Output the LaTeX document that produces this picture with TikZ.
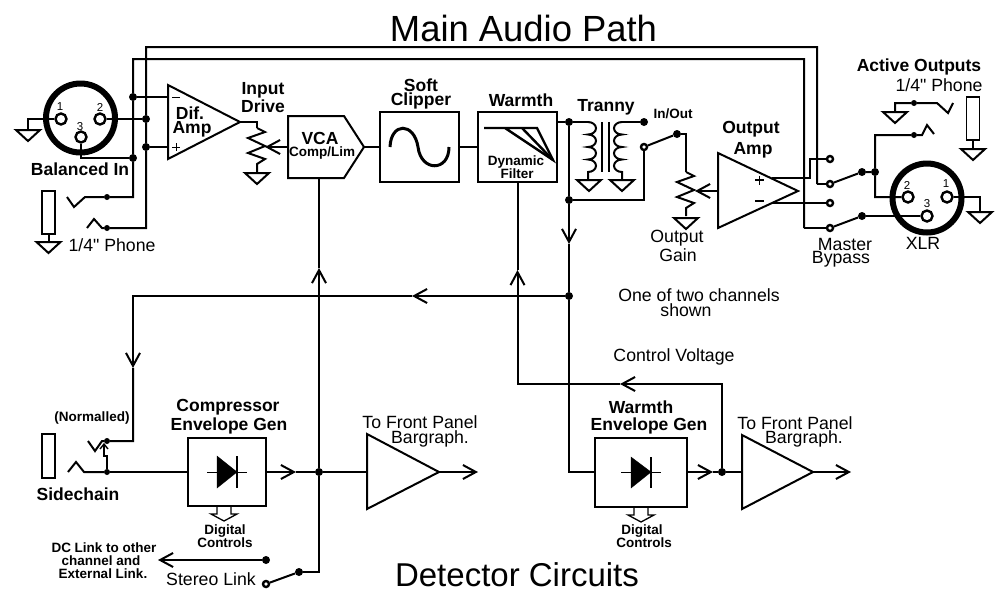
\documentclass[tikz,border=0pt]{standalone}
\usepackage{fontspec}
\setmainfont{Liberation Sans}
\newfontfamily\phonefont{Liberation Sans}
\usetikzlibrary{arrows.meta}
\tikzset{
  wire/.style={line width=2pt,line join=miter},
  dotnode/.style={circle,fill=black,inner sep=0pt,minimum size=8pt},
  tinydot/.style={circle,fill=black,inner sep=0pt,minimum size=6pt},
  contact/.style={circle,draw,fill=white,line width=2.4pt,inner sep=0pt,minimum size=6pt},
  pin/.style={circle,draw,fill=white,line width=2.4pt,inner sep=0pt,minimum size=11pt},
  ring/.style={circle,draw,line width=6pt,inner sep=0pt,minimum size=69pt},
  blockbox/.style={draw,line width=2pt,inner sep=0pt},
  plug/.style={draw,line width=1.4pt,inner sep=0pt},
  lab/.style={inner sep=0pt,font=\fontsize{17.7}{18}\selectfont},
  blab/.style={inner sep=0pt,font=\fontsize{17.5}{18}\selectfont\bfseries},
  slab/.style={inner sep=0pt,font=\fontsize{13.5}{14}\selectfont\bfseries},
  pinlab/.style={inner sep=0pt,font=\fontsize{11.5}{12}\selectfont},
  >={Straight Barb[length=13pt,width=14pt]}
}
% ground symbol below a point
\newcommand{\groundat}[1]{\draw[wire] (#1) ++(-12,0) -- ++(24,0) -- ++(-12,11) -- cycle;}
% pot zigzag, drawn down from a point
\newcommand{\potfrom}[1]{\draw[wire] (#1) -- ++(8,4) -- ++(-17,6) -- ++(17,8) -- ++(-17,7) -- ++(17,6) -- ++(-8,5) -- ++(0,8);}
% hollow digital control arrow
\newcommand{\digiarrow}[1]{\draw[line width=1.3pt] (#1) ++(-7,0) -- ++(0,8) -- ++(-6,0) -- ++(13,7) -- ++(13,-7) -- ++(-6,0) -- ++(0,-8);}
\begin{document}
\begin{tikzpicture}[x=1pt,y=-1pt]
  \useasboundingbox (0,0) rectangle (995,590);
  \node[inner sep=0pt,font=\fontsize{36.4}{36}\selectfont] (title) at (523.5,28) {Main Audio Path};
  \node[inner sep=0pt,font=\fontsize{33}{33}\selectfont] (detector) at (517,575) {Detector Circuits};

  % balanced input
  \node[ring] (xlrin) at (80.5,118) {};
  \node[pin] (inone) at (61,119) {};
  \node[pin] (intwo) at (100,119) {};
  \node[pin] (inthree) at (81,137) {};
  \node[pinlab] (inonelab) at (60,107) {1};
  \node[pinlab] (intwolab) at (100,107) {2};
  \node[pinlab] (inthreelab) at (80,127) {3};
  \node[dotnode] (jneg) at (133,97) {};
  \node[dotnode] (jtwo) at (146,119) {};
  \node[dotnode] (jpos) at (146,147) {};
  \node[dotnode] (jthree) at (133,158) {};
  \coordinate (ingnd) at (28,130);
  \draw[wire] (inone) -- (28,119) -- (ingnd);
  \groundat{ingnd}
  \draw[wire] (intwo) -- (jtwo);
  \draw[wire] (inthree) |- (jthree);
  \node[blab] (balanced) at (80,169) {Balanced In};

  % phone jack
  \node[plug,minimum width=13pt,minimum height=43pt] (phoneplug) at (48.5,212.5) {};
  \coordinate (phonegnd) at (48.5,242);
  \draw[wire] (phoneplug.south) -- (phonegnd);
  \groundat{phonegnd}
  \node[tinydot] (ringdot) at (107,197) {};
  \node[tinydot] (tipdot) at (107,228) {};
  \draw[wire] (67,197) -- (74,207) -- (85,197) -- (ringdot) -- (133,197) -- (jthree) -- (jneg) -- (133,59) -- (804,59) -- (804,228);
  \draw[wire] (87,228) -- (94,219) -- (102,228) -- (tipdot) -- (146,228) -- (jpos) -- (jtwo) -- (146,47) -- (817,47) -- (817,184);
  \node[lab] (phonein) at (112,245) {\phonefont 1/4" Phone};

  % dif amp
  \draw[wire] (168,85) -- (168,159) -- (240,122) -- cycle;
  \coordinate (difout) at (240,122);
  \draw[wire] (jneg) -- (168,97);
  \draw[wire] (jpos) -- (168,147);
  \draw[line width=1pt] (172,97) -- (180,97);
  \draw[line width=1pt] (172,147) -- (180,147) (176,143) -- (176,151);
  \node[blab] (dif) at (190,113) {Dif.};
  \node[blab] (amp) at (192,129) {Amp};

  % input drive
  \node[blab] (input) at (263,90) {Input};
  \node[blab] (drive) at (263,106) {Drive};
  \coordinate (drivetop) at (257,128);
  \coordinate (drivegnd) at (257,173);
  \draw[wire] (difout) -- (257,122) -- (drivetop);
  \potfrom{drivetop}
  \groundat{drivegnd}

  % vca
  \draw[wire] (288,116) -- (344,116) -- (364,147) -- (344,178) -- (288,178) -- cycle;
  \coordinate (vcain) at (288,147);
  \coordinate (vcaout) at (364,147);
  \coordinate (vcabot) at (319,178);
  \draw[wire,->] (vcain) -- (265,147);
  \node[blab] (vca) at (320,138) {VCA};
  \node[slab] (comp) at (322,153) {Comp/Lim};

  % soft clipper and warmth
  \node[blockbox,minimum width=79pt,minimum height=70pt] (clipper) at (419.5,147) {};
  \node[blockbox,minimum width=79pt,minimum height=70pt] (warmth) at (517.5,147) {};
  \node[blab] (soft) at (421,85) {Soft};
  \node[blab] (clip) at (421,101) {Clipper};
  \node[blab] (warmlab) at (521,100) {Warmth};
  \node[slab] (dynamic) at (516,162) {Dynamic};
  \node[slab] (filter) at (517,174) {Filter};
  \draw[wire] (vcaout) -- (clipper.west);
  \draw[wire] (clipper.east) -- (warmth.west);
  \draw[line width=3pt] (390,147) .. controls (391,122) and (414,122) .. (418,147) .. controls (421,172) and (449,172) .. (449,147);
  \draw[line width=2.4pt] (484,128) -- (537,128) -- (553,160) -- (505,128);
  \draw[line width=2.4pt] (522,128) -- (553,160);

  % transformer
  \node[blab] (tranny) at (606,107) {Tranny};
  \node[dotnode] (jwarm) at (569,122) {};
  \node[dotnode] (jgain) at (569,200) {};
  \node[dotnode] (jside) at (569,296) {};
  \draw[wire] (warmth.east |- jwarm) -- (jwarm) -- (588,122);
  \draw[wire] (588,122) \foreach \n in {1,2,3,4} { arc[start angle=-90,end angle=90,x radius=8,y radius=6.25] } -- (588,180);
  \draw[wire] (622,122) \foreach \n in {1,2,3,4} { arc[start angle=-90,end angle=-270,x radius=8,y radius=6.25] } -- (622,180);
  \draw[wire] (602,122) -- (602,172) (609,122) -- (609,172);
  \coordinate (primgnd) at (589,180);
  \coordinate (secgnd) at (622,180);
  \groundat{primgnd}
  \groundat{secgnd}

  % in/out switch
  \node[slab] (inout) at (673,114) {In/Out};
  \node[dotnode] (inon) at (644,122) {};
  \node[contact] (inoff) at (644,147) {};
  \node[dotnode] (inpole) at (677,134) {};
  \draw[wire] (622,122) -- (inon);
  \draw[wire] (inoff) -- (inpole);
  \draw[wire] (inoff) -- (644,200) -- (jgain);
  \coordinate (gaintop) at (686,172);
  \coordinate (gaingnd) at (686,218);
  \draw[wire] (inpole) -- (686,134) -- (gaintop);
  \potfrom{gaintop}
  \groundat{gaingnd}
  \node[lab] (outlab) at (677,238) {Output};
  \node[lab] (gainlab) at (678,255) {Gain};

  % output amp
  \draw[wire] (718,153) -- (718,228) -- (798,191) -- cycle;
  \coordinate (ampin) at (718,191);
  \draw[wire,->] (ampin) -- (695,191);
  \node[blab] (outamp) at (751,129) {Output};
  \node[blab] (outamptwo) at (753,150) {Amp};
  \draw[line width=1.6pt] (755,180) -- (764,180) (759.5,175.5) -- (759.5,184.5);
  \draw[line width=1.6pt] (755,201) -- (764,201);

  % master bypass
  \node[contact] (bypa) at (830,159) {};
  \node[contact] (bypb) at (830,184) {};
  \node[contact] (bypc) at (830,203) {};
  \node[contact] (bypd) at (830,228) {};
  \node[dotnode] (polea) at (862,172) {};
  \node[dotnode] (poleb) at (862,216) {};
  \node[dotnode] (jout) at (875,172) {};
  \draw[wire] (772,178) -- (810,178) -- (810,159) -- (bypa);
  \draw[wire] (772,203) -- (bypc);
  \draw[wire] (817,184) -- (bypb);
  \draw[wire] (804,228) -- (bypd);
  \draw[wire] (bypb) -- (polea) -- (jout);
  \draw[wire] (bypd) -- (poleb);
  \node[lab] (master) at (845,244) {Master};
  \node[lab] (bypass) at (841,259) {Bypass};

  % output xlr
  \node[ring] (xlrout) at (927,198) {};
  \node[pin] (outtwo) at (908,197) {};
  \node[pin] (outone) at (947,197) {};
  \node[pin] (outthree) at (927,216) {};
  \node[pinlab] (outtwolab) at (907,185) {2};
  \node[pinlab] (outonelab) at (946,184) {1};
  \node[pinlab] (outthreelab) at (927,204) {3};
  \coordinate (outgnd) at (980,212);
  \draw[wire] (outone) -- (980,197) -- (outgnd);
  \groundat{outgnd}
  \draw[wire] (poleb) -- (outthree);
  \node[lab] (xlr) at (923,243) {XLR};

  % active outputs
  \node[blab] (active) at (919,67) {Active Outputs};
  \node[lab] (phoneout) at (939,85) {\phonefont 1/4" Phone};
  \node[tinydot] (sleevedot) at (914,103) {};
  \node[tinydot] (outtipdot) at (914,135) {};
  \coordinate (sleevegnd) at (895,112);
  \draw[wire] (sleevegnd) -- (895,103) -- (sleevedot) -- (937,103) -- (948,113) -- (953,103);
  \groundat{sleevegnd}
  \draw[wire] (outtwo) -- (875,197) -- (jout) -- (875,135) -- (outtipdot) -- (922,135) -- (927,125) -- (934,134);
  \node[plug,minimum width=13pt,minimum height=43pt] (outplug) at (973,118.5) {};
  \coordinate (outpluggnd) at (973,149);
  \draw[wire] (outplug.south) -- (outpluggnd);
  \groundat{outpluggnd}

  % side chain feed
  \coordinate (sidearrow) at (569,244);
  \draw[wire,->] (jgain) -- (sidearrow);
  \draw[wire] (jwarm) -- (jgain);
  \draw[wire] (sidearrow) -- (jside);
  \coordinate (feedarrow) at (412,296);
  \coordinate (downarrow) at (133,368);
  \draw[wire,->] (jside) -- (feedarrow);
  \draw[wire,->] (feedarrow) -- (133,296) -- (downarrow);
  \node[lab] (onetwo) at (699,295) {One of two channels};
  \node[lab] (shown) at (686,310) {shown};

  % sidechain
  \node[plug,minimum width=13pt,minimum height=44pt] (sideplug) at (48.5,456) {};
  \node[blab] (sidelab) at (78,494) {Sidechain};
  \node[slab] (normalled) at (92,418) {(Normalled)};
  \node[tinydot] (normdot) at (107,441) {};
  \node[tinydot] (sidedot) at (107,472) {};
  \draw[wire] (downarrow) -- (133,441) -- (normdot) -- (102,441) -- (95,451) -- (88,441);
  \draw[wire] (68,472) -- (76,462) -- (84,472) -- (sidedot);
  \draw[wire] (sidedot) -- (107,456) -- (104,456) -- (104,445);
  \draw[line width=1.4pt] (100,449) -- (104,444) -- (108,449);

  % compressor envelope gen
  \node[blockbox,minimum width=78pt,minimum height=68pt] (compgen) at (227,472) {};
  \node[blab] (compress) at (228,407) {Compressor};
  \node[blab] (compenv) at (229,426) {Envelope Gen};
  \draw[fill=black] (217,456) -- (217,488) -- (237,472) -- cycle;
  \draw[line width=1.6pt] (237,456) -- (237,488);
  \draw[line width=1pt] (207,472) -- (247,472);
  \node[dotnode] (jlink) at (319,472) {};
  \coordinate (comparrow) at (296,472);
  \draw[wire] (sidedot) -- (compgen.west);
  \draw[wire,->] (compgen.east) -- (comparrow);
  \draw[wire] (comparrow) -- (jlink);
  \digiarrow{224,506}
  \node[slab] (compdig) at (225,531) {Digital};
  \node[slab] (compctl) at (225,543) {Controls};

  % compressor bargraph
  \draw[wire] (367,434) -- (367,509) -- (439,472) -- cycle;
  \coordinate (compbar) at (478,472);
  \draw[wire] (jlink) -- (367,472);
  \draw[wire,->] (439,472) -- (compbar);
  \node[lab] (compfront) at (420,422) {To Front Panel};
  \node[lab] (compbarlab) at (430,439) {Bargraph.};

  % vca control and stereo link
  \coordinate (vcaarrow) at (319,268);
  \node[dotnode] (linkpole) at (299,572) {};
  \node[dotnode] (linkon) at (266,560) {};
  \node[contact] (linkoff) at (266,584) {};
  \draw[wire,->] (jlink) -- (vcaarrow);
  \draw[wire] (vcaarrow) -- (vcabot);
  \draw[wire] (jlink) -- (319,572) -- (linkpole);
  \draw[wire] (linkoff) -- (linkpole);
  \coordinate (linkend) at (158,560);
  \draw[wire,->] (linkon) -- (linkend);
  \node[lab] (stereo) at (211,579) {Stereo Link};
  \node[slab] (dcone) at (104,548) {DC Link to other};
  \node[slab] (dctwo) at (101,561) {channel and};
  \node[slab] (dcthree) at (103,574) {External Link.};

  % warmth envelope gen
  \node[blockbox,minimum width=92pt,minimum height=69pt] (warmgen) at (641,472.5) {};
  \node[blab] (warmgenlab) at (641,407) {Warmth};
  \node[blab] (warmenv) at (649,426) {Envelope Gen};
  \draw[fill=black] (631,457) -- (631,488) -- (651,472) -- cycle;
  \draw[line width=1.6pt] (651,457) -- (651,488);
  \draw[line width=1pt] (621,472) -- (661,472);
  \node[dotnode] (jcv) at (722,472) {};
  \coordinate (warmarrow) at (713,472);
  \draw[wire] (jside) -- (569,472) -- (warmgen.west |- jcv);
  \draw[wire,->] (warmgen.east |- jcv) -- (warmarrow);
  \draw[wire] (warmarrow) -- (jcv);
  \digiarrow{641,507}
  \node[slab] (warmdig) at (642,531) {Digital};
  \node[slab] (warmctl) at (644,543) {Controls};

  % warmth bargraph
  \draw[wire] (742,435) -- (742,509) -- (813,472) -- cycle;
  \coordinate (warmbar) at (851,472);
  \draw[wire] (jcv) -- (742,472);
  \draw[wire,->] (813,472) -- (warmbar);
  \node[lab] (warmfront) at (795,423) {To Front Panel};
  \node[lab] (warmbarlab) at (804,439) {Bargraph.};

  % control voltage
  \coordinate (cvleft) at (620,384);
  \coordinate (cvup) at (517.5,270);
  \draw[wire,->] (jcv) -- (722,384) -- (cvleft);
  \draw[wire,->] (cvleft) -- (517.5,384) -- (cvup);
  \draw[wire] (cvup) -- (warmth.south);
  \node[lab] (cvlab) at (674,357) {Control Voltage};
\end{tikzpicture}
\end{document}
